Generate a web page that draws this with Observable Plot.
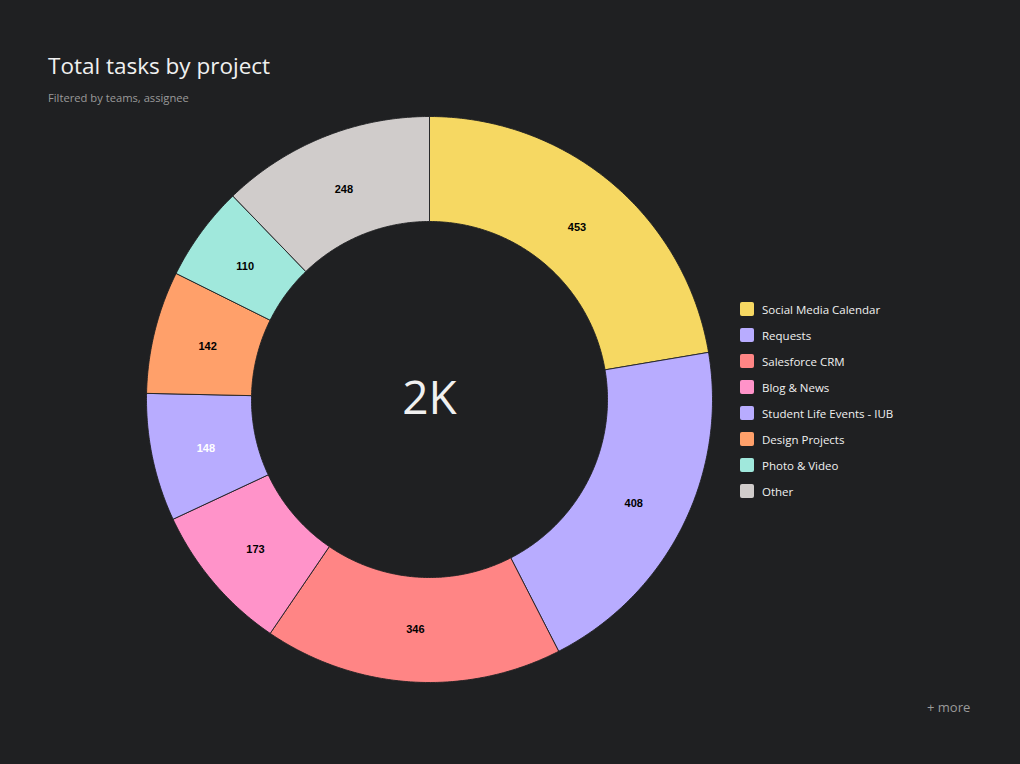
<!DOCTYPE html>
<html>
<head>
<meta charset="utf-8">
<script src="https://cdn.jsdelivr.net/npm/d3@7"></script>
<script src="https://cdn.jsdelivr.net/npm/@observablehq/plot@0.6"></script>
<style>
  html, body { margin: 0; padding: 0; background: #1f2022; }
  body { width: 1020px; height: 764px; position: relative; overflow: hidden; font-family: "Open Sans", "Noto Sans", sans-serif; }
  #title { position: absolute; left: 48px; top: 50px; font-size: 22.5px; color: #f0f0f0; font-weight: 400; }
  #subtitle { position: absolute; left: 48px; top: 90px; font-size: 11.2px; color: #9a9a9a; }
  #chart { position: absolute; left: 0; top: 100px; }
  #legend { position: absolute; left: 740px; top: 296px; }
  .item { display: flex; align-items: center; height: 26px; font-size: 11.5px; color: #f0f0f0; }
  .sw { width: 14px; height: 14px; border-radius: 2px; margin-right: 8px; }
  #more { position: absolute; left: 927px; top: 698px; font-size: 13px; color: #9a9a9a; }
</style>
</head>
<body>
<div id="title">Total tasks by project</div>
<div id="subtitle">Filtered by teams, assignee</div>
<div id="chart"></div>
<div id="legend"></div>
<div id="more">+ more</div>
<script>
const projects = ["Social Media Calendar", "Requests", "Salesforce CRM", "Blog & News", "Student Life Events - IUB", "Design Projects", "Photo & Video", "Other"];
const tasks = [453, 408, 346, 173, 148, 142, 110, 248];
const colors = ["#f6d862", "#b8acff", "#ff8585", "#ff93c9", "#b8acff", "#ffa06a", "#a0e8dc", "#d0cccb"];
const labelColors = ["#000", "#000", "#000", "#000", "#fff", "#000", "#000", "#000"];
const totalLabel = "2K";

const W = 1020, H = 600;
const cx = 429, cy = 299;
const rOuter = 283, rInner = 178;

const data = projects.map((p, i) => ({project: p, value: tasks[i], color: colors[i], labelColor: labelColors[i]}));
const arcs = d3.pie().sort(null).value(d => d.value)(data);

// slice outlines in the same coordinate space as the scales
function outline(a) {
  const pts = [];
  const n = Math.max(4, Math.ceil((a.endAngle - a.startAngle) / (Math.PI / 360)));
  for (let k = 0; k <= n; k++) {
    const t = a.startAngle + (a.endAngle - a.startAngle) * k / n;
    pts.push({x: rOuter * Math.sin(t), y: rOuter * Math.cos(t)});
  }
  for (let k = n; k >= 0; k--) {
    const t = a.startAngle + (a.endAngle - a.startAngle) * k / n;
    pts.push({x: rInner * Math.sin(t), y: rInner * Math.cos(t)});
  }
  pts.push(pts[0]);
  return pts;
}

const rLabel = (rOuter + rInner) / 2 - 2;
const labels = arcs.map(a => {
  const m = (a.startAngle + a.endAngle) / 2;
  return {x: rLabel * Math.sin(m), y: rLabel * Math.cos(m), text: String(a.data.value), color: a.data.labelColor};
});

const chart = Plot.plot({
  width: W, height: H,
  margin: 0,
  x: {domain: [-cx, W - cx], axis: null},
  y: {domain: [-(H - cy), cy], axis: null},
  style: {background: "transparent"},
  marks: [
    ...arcs.map(a => Plot.line(outline(a), {x: "x", y: "y", fill: a.data.color, stroke: "#1f2022", strokeWidth: 1, strokeOpacity: 0.9})),
    Plot.text(labels, {x: "x", y: "y", text: "text", fill: "color", dy: 2, fontSize: 11, fontWeight: "bold", fontFamily: "Liberation Sans, Arial, sans-serif"}),
    Plot.text([totalLabel], {x: () => 0, y: () => 0, text: d => d, fill: "#f0f0f0", fontSize: 46, fontFamily: "Open Sans, Noto Sans, sans-serif"})
  ]
});
document.getElementById("chart").appendChild(chart);

const legend = document.getElementById("legend");
projects.forEach((p, i) => {
  const it = document.createElement("div");
  it.className = "item";
  const sw = document.createElement("div");
  sw.className = "sw";
  sw.style.background = colors[i];
  const tx = document.createElement("span");
  tx.textContent = p;
  it.appendChild(sw); it.appendChild(tx);
  legend.appendChild(it);
});
</script>
</body>
</html>
